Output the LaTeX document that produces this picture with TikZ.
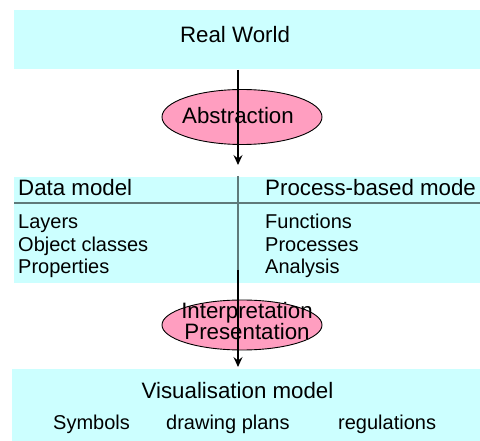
\documentclass[tikz,border=0pt]{standalone}
\usepackage{fontspec}
\setmainfont{Liberation Sans}
\usetikzlibrary{shapes.geometric,arrows.meta}
\definecolor{panel}{HTML}{CCFFFF}
\definecolor{bubble}{HTML}{FF9EC0}
\definecolor{rule}{HTML}{5F7A7A}
\tikzset{
  panelbox/.style={draw=none, fill=panel, rectangle, inner sep=0pt},
  bubblebox/.style={draw=black, line width=0.9pt, fill=bubble, ellipse, inner sep=0pt},
  big/.style={font=\fontsize{22.3}{22}\selectfont, inner sep=0pt, anchor=base},
  small/.style={font=\fontsize{20}{20}\selectfont, inner sep=0pt, anchor=base west},
  flow/.style={draw=black, line width=1.1pt, -{Stealth[length=10pt,width=9pt,inset=3.5pt]}},
  divider/.style={draw=rule, line width=1.1pt}
}
\begin{document}
\begin{tikzpicture}[x=1pt,y=-1pt]
  \useasboundingbox (0,0) rectangle (480,441);

  % top panel
  \node[panelbox, minimum width=466pt, minimum height=59pt] (world) at (247,39.5) {};
  \node[big] (worldtxt) at (235,43) {Real World};

  % abstraction step
  \node[bubblebox, minimum width=160pt, minimum height=55pt] (abs) at (242,117) {};
  \node[big] (abstxt) at (238,123.5) {Abstraction};
  \coordinate (a1s) at (238,70);
  \coordinate (a1e) at (238,165);
  \draw[flow] (a1s) -- (a1e);

  % middle panel: data and process models
  \node[panelbox, minimum width=466pt, minimum height=106pt] (mid) at (247,230) {};
  \coordinate (hl) at (14,203);
  \coordinate (hr) at (480,203);
  \draw[divider] (hl) -- (hr);
  \coordinate (vt) at (238,176);
  \coordinate (vb) at (238,270);
  \draw[divider] (vt) -- (vb);

  \node[big, anchor=base west] (dm) at (18,196) {Data model};
  \node[big, anchor=base west] (pm) at (265,196) {Process-based mode};
  \node[small] (l1) at (18,229) {Layers};
  \node[small] (l2) at (18,251.5) {Object classes};
  \node[small] (l3) at (18,274) {Properties};
  \node[small] (r1) at (265,229) {Functions};
  \node[small] (r2) at (265,251.5) {Processes};
  \node[small] (r3) at (265,274) {Analysis};

  % interpretation step
  \node[bubblebox, minimum width=160pt, minimum height=50pt] (interp) at (242,325) {};
  \node[big] (interp1) at (247,318.5) {Interpretation};
  \node[big] (interp2) at (247,339) {Presentation};
  \coordinate (a2e) at (238,367);
  \draw[flow] (vb) -- (a2e);

  % bottom panel
  \node[panelbox, minimum width=468pt, minimum height=72pt] (vis) at (246,405) {};
  \node[big] (vistxt) at (237.5,398) {Visualisation model};
  \node[small] (b1) at (53,429) {Symbols};
  \node[small] (b2) at (166,429) {drawing plans};
  \node[small] (b3) at (338,429) {regulations};
\end{tikzpicture}
\end{document}
